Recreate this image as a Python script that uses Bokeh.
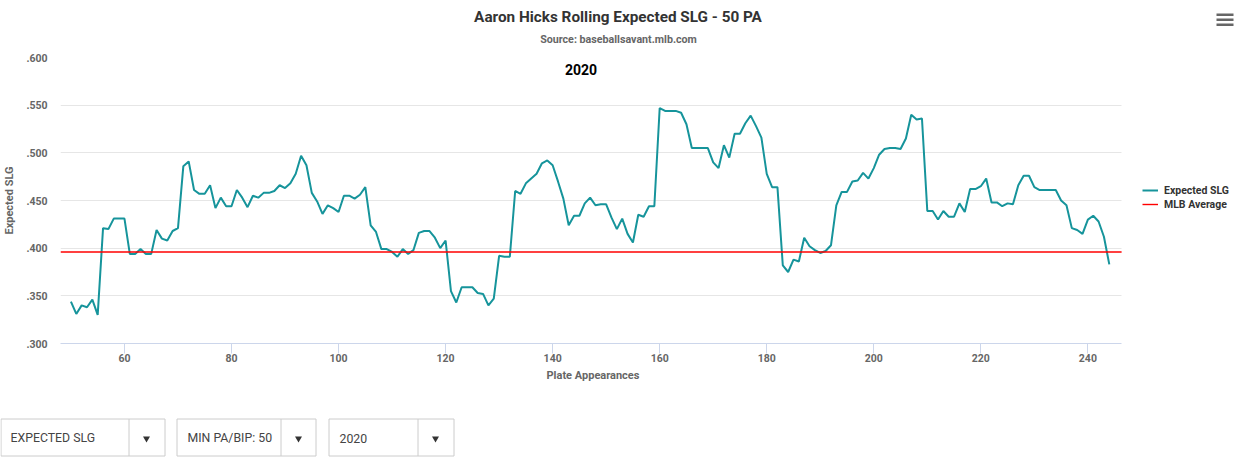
from bokeh.plotting import figure
from bokeh.models import Range1d, FixedTicker, Label, Legend, LegendItem, Title
from bokeh.embed import file_html
from bokeh.resources import INLINE
from bokeh.core.properties import value

# ---------------- data ----------------
title_text = "Aaron Hicks Rolling Expected SLG - 50 PA"
subtitle_text = "Source: baseballsavant.mlb.com"
season_text = "2020"
x_label = "Plate Appearances"
y_label = "Expected SLG"
series_name = "Expected SLG"
avg_name = "MLB Average"

plate_appearances = list(range(50, 245))
expected_slg = [
    .344, .331, .340, .338, .346, .330, .421, .420, .431, .431,   # 50-59
    .431, .394, .394, .399, .394, .394, .419, .410, .408, .418,   # 60-69
    .421, .486, .491, .461, .457, .457, .466, .442, .453, .444,   # 70-79
    .444, .461, .453, .443, .455, .453, .458, .458, .460, .466,   # 80-89
    .463, .468, .478, .497, .487, .458, .449, .436, .445, .442,   # 90-99
    .438, .455, .455, .452, .456, .464, .424, .417, .399, .399,   # 100-109
    .396, .391, .399, .394, .398, .416, .418, .418, .411, .400,   # 110-119
    .408, .355, .343, .359, .359, .359, .353, .352, .340, .347,   # 120-129
    .392, .391, .391, .460, .457, .468, .473, .478, .489, .492,   # 130-139
    .487, .470, .452, .424, .434, .434, .447, .453, .445, .446,   # 140-149
    .446, .432, .420, .431, .415, .406, .435, .433, .444, .444,   # 150-159
    .547, .544, .544, .544, .542, .530, .505, .505, .505, .505,   # 160-169
    .490, .484, .508, .495, .520, .520, .531, .539, .528, .516,   # 170-179
    .478, .464, .464, .382, .375, .388, .386, .411, .402, .398,   # 180-189
    .395, .397, .403, .445, .459, .459, .470, .471, .479, .473,   # 190-199
    .484, .498, .504, .505, .505, .504, .515, .540, .535, .536,   # 200-209
    .439, .439, .430, .439, .433, .433, .447, .438, .462, .462,   # 210-219
    .465, .473, .448, .448, .444, .447, .446, .466, .476, .476,   # 220-229
    .464, .461, .461, .461, .461, .450, .445, .421, .419, .415,   # 230-239
    .430, .434, .428, .412, .383,                                 # 240-244
]
mlb_average = 0.396

x_ticks = [60, 80, 100, 120, 140, 160, 180, 200, 220, 240]
y_ticks = [0.30, 0.35, 0.40, 0.45, 0.50, 0.55, 0.60]
y_tick_labels = [".300", ".350", ".400", ".450", ".500", ".550", ".600"]

dropdown_labels = ["EXPECTED SLG", "MIN PA/BIP: 50", "2020"]

# ---------------- styles ----------------
FONT = "Roboto"
TEAL = "#16949b"
RED = "#ff0000"
GRID = "#e6e6e6"
AXIS = "#ccd6eb"
TXT = "#666666"
DARK = "#333333"

W = 1237
H_HEAD = 48      # page y 0..48
H_MAIN = 352     # page y 48..400
H_FOOT = 60      # page y 400..460
MAIN_TOP = H_HEAD

# plot area in page pixels (reference): x 59..1121, y 57..343
PL, PR, PT, PB = 59, 1121, 57, 343
X0, X1 = 48.05, 246.3          # axis extent of the plot area
Y0, Y1 = 0.30, 0.60
KX = (PR - PL) / (X1 - X0)
KY = (PB - PT) / (Y1 - Y0)
X_END = X0 + (W - PL) / KX     # frame reaches to the right edge (room for the legend)

FT = PT - MAIN_TOP
FB = H_MAIN - FT - (PB - PT)


def blank_fig(h):
    f = figure(width=W, height=h, output_backend="svg", toolbar_location=None,
               x_range=Range1d(0, W), y_range=Range1d(h, 0),
               x_axis_location=None, y_axis_location=None,
               min_border_left=0, min_border_right=0, min_border_top=0, min_border_bottom=0)
    f.title_location = None
    f.outline_line_color = None
    f.grid.visible = False
    f.border_fill_color = "white"
    f.background_fill_color = "white"
    return f


# ---------------- header ----------------
head = blank_fig(H_HEAD)
head.add_layout(Label(x=617.5, y=16, text=title_text, text_font=FONT, text_font_size="15.3px",
                      text_font_style="bold", text_color=DARK, text_align="center",
                      text_baseline="middle"))
head.add_layout(Label(x=618, y=39, text=subtitle_text, text_font=FONT, text_font_size="10.7px",
                      text_font_style="bold", text_color=TXT, text_align="center",
                      text_baseline="middle"))
menu_rows = [14.3, 19.3, 24.3]
head.quad(left=[1216] * 3, right=[1233] * 3,
          top=[r - 1.3 for r in menu_rows], bottom=[r + 1.3 for r in menu_rows],
          fill_color=TXT, line_color=None)

# ---------------- main chart ----------------
p = figure(width=W, height=H_MAIN, output_backend="svg", toolbar_location=None,
           x_range=Range1d(X0, X_END), y_range=Range1d(Y0, Y1),
           min_border_left=PL, min_border_right=0, min_border_top=FT, min_border_bottom=FB)
p.title_location = None
p.outline_line_color = None
p.background_fill_color = "white"
p.border_fill_color = "white"

xa = p.xaxis[0]
xa.ticker = FixedTicker(ticks=x_ticks, minor_ticks=[])
xa.bounds = (X0, X1)
xa.axis_line_color = AXIS
xa.major_tick_line_color = AXIS
xa.major_tick_out = 10
xa.major_tick_in = 0
xa.minor_tick_line_color = None
xa.major_label_text_font = FONT
xa.major_label_text_font_size = "10.5px"
xa.major_label_text_font_style = "bold"
xa.major_label_text_color = TXT
xa.major_label_standoff = 0

p.add_layout(Title(text=x_label, align="left", offset=545 - PL, vertical_align="top",
                   standoff=9, text_font=FONT, text_font_size="11px",
                   text_font_style="bold", text_color=TXT), "below")

ya = p.yaxis[0]
ya.ticker = FixedTicker(ticks=y_ticks, minor_ticks=[])
ya.major_label_overrides = dict(zip(y_ticks, y_tick_labels))
ya.axis_line_color = None
ya.major_tick_line_color = None
ya.minor_tick_line_color = None
ya.major_tick_out = 0
ya.major_tick_in = 0
ya.major_label_text_font = FONT
ya.major_label_text_font_size = "10.5px"
ya.major_label_text_font_style = "bold"
ya.major_label_text_color = TXT
ya.major_label_standoff = 13
ya.axis_label = y_label
ya.axis_label_text_font = FONT
ya.axis_label_text_font_size = "11px"
ya.axis_label_text_font_style = "bold"
ya.axis_label_text_color = TXT
ya.axis_label_standoff = 7

p.xgrid.visible = False
try:
    p.ygrid.cross_bounds = (X0, X1)
    p.ygrid.grid_line_color = GRID
    p.ygrid.grid_line_width = 1
except AttributeError:
    p.ygrid.visible = False
    p.segment(x0=[X0] * len(y_ticks), x1=[X1] * len(y_ticks), y0=y_ticks, y1=y_ticks,
              line_color=GRID, line_width=1)

teal_r = p.line(plate_appearances, expected_slg, line_color=TEAL, line_width=2)
red_r = p.segment(x0=[X0], x1=[X1], y0=[mlb_average], y1=[mlb_average],
                  line_color=RED, line_width=1.4)

p.add_layout(Label(x=X0 + (580 - PL) / KX, y=Y1 - (68.5 - PT) / KY, text=season_text,
                   text_font=FONT, text_font_size="14px", text_font_style="bold",
                   text_color="#000000", text_align="center", text_baseline="middle"))

legend = Legend(items=[LegendItem(label=series_name, renderers=[teal_r]),
                       LegendItem(label=avg_name, renderers=[red_r])],
                location=(1141 - PL, PB - 211),
                glyph_width=16, glyph_height=14, label_height=14, label_standoff=6,
                spacing=0, padding=0, margin=0,
                border_line_color=None, background_fill_alpha=0,
                label_text_font=FONT, label_text_font_size="10.5px",
                label_text_font_style="bold", label_text_color=DARK)
p.add_layout(legend)

# ---------------- footer with dropdowns ----------------
foot = blank_fig(H_FOOT)
FOOT_TOP = MAIN_TOP + H_MAIN
box_left = [0.5, 176.5, 328.5]
box_right = [164.5, 315.5, 453.5]
box_div = [128.5, 280.5, 417.5]
box_arrow = [146, 298, 435]
box_text = [10, 187, 339]
top_y = 418.5 - FOOT_TOP
bot_y = 455.5 - FOOT_TOP
mid_y = 437.5 - FOOT_TOP

foot.quad(left=box_left, right=box_right, top=[top_y] * 3, bottom=[bot_y] * 3,
          fill_color="white", line_color="#cccccc", line_width=1)
foot.segment(x0=box_div, x1=box_div, y0=[top_y] * 3, y1=[bot_y] * 3,
             line_color="#cccccc", line_width=1)
foot.scatter(x=box_arrow, y=[mid_y + 0.5] * 3, marker="inverted_triangle",
             size=7, fill_color=DARK, line_color=None)
foot.text(x=box_text, y=[mid_y] * 3, text=dropdown_labels,
          text_font=value(FONT), text_font_size="12.3px", text_color="#444444",
          text_align="left", text_baseline="middle")

open("out.html", "w").write(file_html([head, p, foot], INLINE))
